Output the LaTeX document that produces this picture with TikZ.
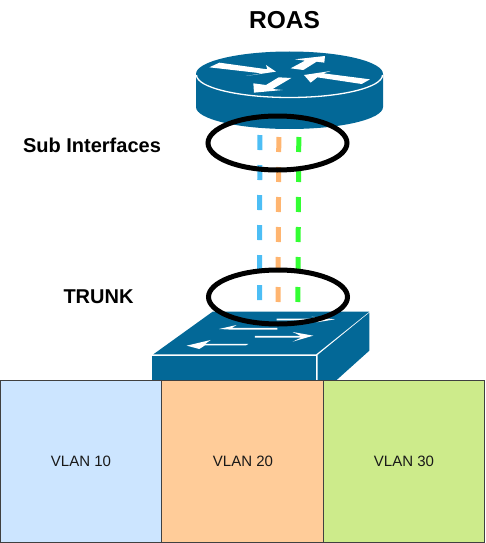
\documentclass[tikz,border=0pt]{standalone}
\usepackage{fontspec}
\setmainfont{Liberation Sans}
\usetikzlibrary{shapes.geometric}
\definecolor{cisco}{HTML}{036897}
\definecolor{dashblue}{HTML}{4DBEF5}
\definecolor{dashorange}{HTML}{FFB570}
\definecolor{dashgreen}{HTML}{33FF33}
\tikzset{
  vlanbox/.style={draw=black!75,line width=1pt,minimum width=161.5pt,minimum height=162pt,inner sep=0pt,font=\fontsize{15}{18}\selectfont,text=black!90},
  ringnode/.style={ellipse,draw=black,line width=5pt,minimum width=139pt,minimum height=54pt,inner sep=0pt},
  vlandash/.style={line width=5pt,dash pattern=on 15pt off 15pt},
  boldlabel/.style={font=\bfseries\fontsize{20}{24}\selectfont,inner sep=0pt,text=black},
  glyph/.style={fill=white,draw=none},
  body/.style={fill=cisco,draw=none}
}
\begin{document}
\begin{tikzpicture}[x=1pt,y=-1pt]
\useasboundingbox (0,0) rectangle (486,543);
% router
\fill[body] (196,74) -- (196,107) arc[x radius=93.5,y radius=22,start angle=180,end angle=0] -- (383,74) arc[x radius=93.5,y radius=22.5,start angle=0,end angle=-180] -- cycle;
\draw[white,line width=1.3pt] (196.5,75) arc[x radius=93,y radius=22.5,start angle=180,end angle=0];
\begin{scope}[xshift=180pt,yshift=-40pt,x=0.3333pt,y=-0.3333pt]
\fill[glyph] (88,82)--(118,68)--(262,88)--(258,75)--(288,95)--(198,108)--(245,100)--cycle;
\fill[glyph] (332,85)--(375,62)--(345,58)--(435,48)--(433,68)--(410,65)--(370,90)--cycle;
\fill[glyph] (372,105)--(452,93)--(430,100)--(570,118)--(545,132)--(412,112)--(392,128)--cycle;
\fill[glyph] (334,114)--(296,112)--(258,135)--(220,130)--(222,158)--(308,150)--(278,147)--cycle;
\end{scope}
% switch
\begin{scope}[xshift=140pt,yshift=-260pt,x=0.3333pt,y=-0.3333pt]
\fill[body] (40,283)--(218,155)--(688,155)--(528,283)--cycle;
\fill[body] (35,288)--(527,288)--(527,365)--(35,365)--cycle;
\fill[body] (533,285)--(688,158)--(688,272)--(590,360)--(533,360)--cycle;
\fill[glyph] (237,207)--(290,195)--(275,204)--(412,204)--(412,209)--(275,209)--cycle;
\fill[glyph] (410,176)--(535,176)--(515,170)--(585,178)--(530,187)--(535,181)--(410,181)--cycle;
\fill[glyph] (345,228)--(483,228)--(458,216)--(520,227)--(458,245)--(483,233)--(345,233)--cycle;
\fill[glyph] (140,257)--(212,240)--(195,252)--(325,252)--(318,256)--(195,256)--(178,267)--cycle;
\end{scope}
% VLAN boxes
\node[vlanbox,fill={rgb,255:red,204;green,229;blue,255}] (v10) at (81,461) {VLAN 10};
\node[vlanbox,fill={rgb,255:red,255;green,204;blue,153}] (v20) at (242.5,461) {\hspace{1pt}VLAN 20};
\node[vlanbox,fill={rgb,255:red,205;green,235;blue,139}] (v30) at (404,461) {VLAN 30};
% dashed links
\coordinate (b1) at (259.8,135); \coordinate (b2) at (259.6,300);
\coordinate (o1) at (278.8,137); \coordinate (o2) at (278,302);
\coordinate (g1) at (298.8,137); \coordinate (g2) at (297.8,302);
\draw[vlandash,dashblue] (b1) -- (b2);
\draw[vlandash,dashorange] (o1) -- (o2);
\draw[vlandash,dashgreen] (g1) -- (g2);
% rings
\node[ringnode] (subring) at (277.5,143) {};
\node[ringnode] (trunkring) at (278,297) {};
% labels
\node[boldlabel,font=\bfseries\fontsize{24.5}{28}\selectfont] (roas) at (284.5,20) {ROAS};
\node[boldlabel,font=\bfseries\fontsize{20}{24}\selectfont] (sub) at (92,145) {Sub Interfaces};
\node[boldlabel] (trunk) at (98.5,297) {TRUNK};
\end{tikzpicture}
\end{document}
